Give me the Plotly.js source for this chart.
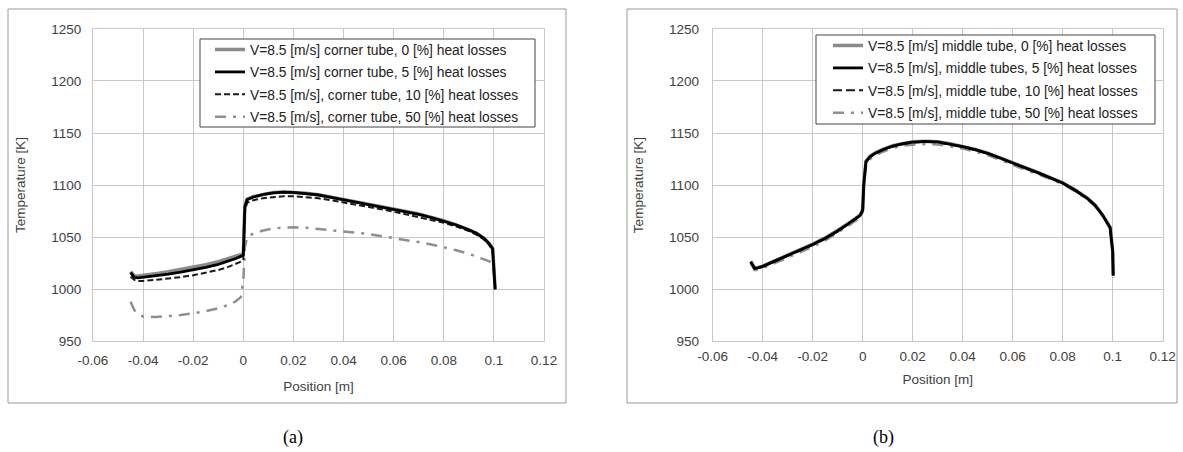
<!DOCTYPE html>
<html>
<head>
<meta charset="utf-8">
<script src="https://cdn.plot.ly/plotly-3.0.1.min.js"></script>
<style>
  html, body { margin: 0; padding: 0; background: #ffffff; }
  #chart { width: 1183px; height: 452px; }
</style>
</head>
<body>
<div id="chart"></div>
<script>
// ---------- data ----------
const xCorner = [-0.045, -0.0435, -0.042, -0.04, -0.035, -0.03, -0.025, -0.02, -0.015, -0.01,
  -0.006, -0.003, -0.001, 0, 0.0006, 0.0015, 0.004, 0.008, 0.012, 0.016,
  0.02, 0.025, 0.03, 0.035, 0.04, 0.045, 0.05, 0.055, 0.06, 0.065,
  0.07, 0.075, 0.08, 0.085, 0.09, 0.093, 0.096, 0.098, 0.0995, 0.1, 0.1005];
const corner0 = [1017, 1013, 1012.8, 1013.3, 1015, 1016.8, 1018.8, 1021, 1023.6, 1026.6,
  1029.4, 1031.6, 1033, 1034, 1080, 1086.5, 1089, 1091.3, 1092.8, 1093.4,
  1093.2, 1092.2, 1090.7, 1088.5, 1086.2, 1084, 1081.7, 1079.5, 1077.2, 1074.8,
  1072.2, 1069.1, 1065.8, 1061.9, 1057.4, 1054, 1049.2, 1044.2, 1039.2, 1015.5, 1000.5];
const corner5 = [1016, 1011.5, 1011, 1011.5, 1013, 1014.6, 1016.4, 1018.5, 1021, 1024,
  1027, 1029.6, 1031.6, 1033, 1079, 1086, 1088.6, 1091, 1092.6, 1093.2,
  1093, 1092, 1090.5, 1088.3, 1086, 1083.8, 1081.5, 1079.3, 1077, 1074.6,
  1072, 1068.9, 1065.6, 1061.7, 1057.2, 1053.8, 1049, 1044, 1039, 1015, 1000];
const corner10 = [1012, 1009, 1008, 1008, 1009, 1010.2, 1011.7, 1013.5, 1015.7, 1018.5,
  1021.5, 1024.2, 1026.5, 1028, 1075, 1083, 1085.5, 1087.5, 1088.7, 1089.2,
  1089.2, 1088.5, 1087.3, 1085.5, 1083.5, 1081.3, 1079, 1076.8, 1074.5, 1072,
  1069.5, 1066.8, 1063.8, 1060.3, 1056, 1052.5, 1047.8, 1043, 1038, 1014, 1000];
const corner50 = [988, 980, 976, 974, 973.3, 974, 975.3, 977, 979, 981.8,
  985, 988.5, 992.5, 1008, 1040, 1050, 1053.5, 1056.5, 1058.3, 1059.3,
  1059.6, 1059, 1058, 1057, 1055.7, 1054.4, 1053, 1051.2, 1049.5, 1047.3,
  1045.3, 1043, 1040.5, 1037.5, 1034, 1031.5, 1029, 1027, 1025, 1012, 1000];

const xMiddle = [-0.0448, -0.0432, -0.042, -0.04, -0.035, -0.03, -0.025, -0.02, -0.015, -0.01,
  -0.006, -0.003, -0.001, 0, 0.0004, 0.0013, 0.003, 0.005, 0.008, 0.012,
  0.016, 0.02, 0.025, 0.03, 0.035, 0.04, 0.045, 0.05, 0.055, 0.06,
  0.065, 0.07, 0.075, 0.08, 0.085, 0.09, 0.093, 0.096, 0.098, 0.099, 0.1, 0.1002];
const middle0 = [1026.8, 1020.3, 1020.8, 1022.3, 1027.6, 1032.7, 1038, 1043.3, 1049.3, 1056.3,
  1062.8, 1067.8, 1071.3, 1076.5, 1100.5, 1122.8, 1127.8, 1130.8, 1134.3, 1137.8,
  1140, 1141.5, 1142.2, 1141.7, 1139.7, 1137.2, 1134.2, 1130.7, 1126.2, 1121.2,
  1116.7, 1112.2, 1107.2, 1102.2, 1095.2, 1087.2, 1080.7, 1071.2, 1063.2, 1059.2, 1036.5, 1013.5];
const middle5 = [1026.5, 1020, 1020.5, 1022, 1027.3, 1032.4, 1037.7, 1043, 1049, 1056,
  1062.5, 1067.5, 1071, 1076, 1100, 1122.5, 1127.5, 1130.5, 1134, 1137.5,
  1139.8, 1141.3, 1142, 1141.5, 1139.5, 1137, 1134, 1130.5, 1126, 1121,
  1116.5, 1112, 1107, 1102, 1095, 1087, 1080.5, 1071, 1063, 1059, 1036, 1013];
const middle10 = [1026, 1019.5, 1020, 1021.5, 1026.8, 1031.9, 1037.2, 1042.5, 1048.5, 1055.5,
  1062, 1067, 1070.5, 1075.5, 1099, 1121.8, 1127, 1130, 1133.5, 1137,
  1139.3, 1140.8, 1141.5, 1141, 1139, 1136.6, 1133.6, 1130.1, 1125.6, 1120.6,
  1116.1, 1111.6, 1106.7, 1101.7, 1094.7, 1086.7, 1080.2, 1070.7, 1062.7, 1058.5, 1035, 1012];
const middle50 = [1025, 1018.5, 1019, 1020.3, 1025.3, 1030.3, 1035.5, 1040.8, 1046.8, 1054,
  1060.5, 1065.5, 1069, 1074, 1097, 1119.5, 1125, 1128.3, 1132, 1135.5,
  1137.8, 1138.8, 1139.3, 1139, 1137.3, 1135, 1132.2, 1128.7, 1124.2, 1119.3,
  1114.8, 1110.5, 1105.8, 1101, 1094, 1086, 1079.7, 1070.2, 1062.2, 1058, 1034, 1011];

const cornerNames = [
  'V=8.5 [m/s] corner tube, 0 [%] heat losses',
  'V=8.5 [m/s] corner tube, 5 [%] heat losses',
  'V=8.5 [m/s], corner tube, 10 [%] heat losses',
  'V=8.5 [m/s], corner tube, 50 [%] heat losses'
];
const middleNames = [
  'V=8.5 [m/s] middle tube, 0 [%] heat losses',
  'V=8.5 [m/s], middle tubes, 5 [%] heat losses',
  'V=8.5 [m/s], middle tube, 10 [%] heat losses',
  'V=8.5 [m/s], middle tube, 50 [%] heat losses'
];
const xTickVals = [-0.06, -0.04, -0.02, 0, 0.02, 0.04, 0.06, 0.08, 0.1, 0.12];
const xTickText = ['-0.06', '-0.04', '-0.02', '0', '0.02', '0.04', '0.06', '0.08', '0.1', '0.12'];
const yTickVals = [950, 1000, 1050, 1100, 1150, 1200, 1250];
const yTickText = ['950', '1000', '1050', '1100', '1150', '1200', '1250'];
const panelLabels = ['(a)', '(b)'];
const xTitle = 'Position [m]';
const yTitle = 'Temperature [K]';

// ---------- styling ----------
const W = 1183, H = 452;
const px = v => v / W;
const py = v => 1 - v / H;
const FONT = '"Liberation Sans", Arial, sans-serif';
const GRID = '#c8c8c8';

const styles = [
  {color: '#8a8a8a', width: 3.5, rank: 1},
  {color: '#000000', width: 2.8, rank: 2},
  {color: '#1a1a1a', width: 2, rank: 3},
  {color: '#8f8f8f', width: 2.5, rank: 4}
];

function makeTraces(xs, ys, names, xa, ya, lg, grp, drawOrder, dashStyles) {
  return drawOrder.map(i => ({
    type: 'scatter', mode: 'lines',
    x: xs, y: ys[i], name: names[i],
    xaxis: xa, yaxis: ya, legend: lg, legendgroup: grp + i,
    legendrank: styles[i].rank,
    line: {color: styles[i].color, width: styles[i].width, dash: dashStyles[i]},
    hoverinfo: 'skip'
  }));
}

const traces = [].concat(
  makeTraces(xCorner, [corner0, corner5, corner10, corner50], cornerNames, 'x', 'y', 'legend', 'c',
    [0, 3, 2, 1], ['solid', 'solid', '6px,3px', '11px,7px,3px,7px']),
  makeTraces(xMiddle, [middle0, middle5, middle10, middle50], middleNames, 'x2', 'y2', 'legend2', 'm',
    [0, 3, 2, 1], ['solid', 'solid', '9px,4px', '11px,7px,3px,7px'])
);

function xAxis(domain, ticklen, standoff) {
  return {
    domain: domain, range: [-0.06, 0.12], tickvals: xTickVals, ticktext: xTickText,
    showgrid: true, gridcolor: GRID, gridwidth: 1, zeroline: false,
    showline: true, linecolor: GRID, linewidth: 1, mirror: true,
    ticks: 'outside', ticklen: ticklen, tickcolor: 'rgba(0,0,0,0)',
    tickfont: {family: FONT, size: 13.5, color: '#404040'},
    title: {text: xTitle, standoff: standoff, font: {family: FONT, size: 13.5, color: '#404040'}},
    automargin: false, fixedrange: true
  };
}
function yAxis(domain, anchor, ticklen, standoff) {
  return {
    domain: domain, range: [950, 1250], tickvals: yTickVals, ticktext: yTickText,
    anchor: anchor,
    showgrid: true, gridcolor: GRID, gridwidth: 1, zeroline: false,
    showline: true, linecolor: GRID, linewidth: 1, mirror: true,
    ticks: 'outside', ticklen: ticklen, tickcolor: 'rgba(0,0,0,0)',
    tickfont: {family: FONT, size: 13.5, color: '#404040'},
    title: {text: yTitle, standoff: standoff, font: {family: FONT, size: 13.5, color: '#404040'}},
    automargin: false, fixedrange: true
  };
}

const yDom = [py(341.4), py(28.8)];
const legendBase = {
  bgcolor: 'rgba(0,0,0,0)', borderwidth: 0,
  font: {family: FONT, size: 13.8, color: '#222222'},
  xanchor: 'left', yanchor: 'top', traceorder: 'grouped', tracegroupgap: 1.5
};

const frameLine = {color: '#9a9a9a', width: 1};
const legendLine = {color: '#444444', width: 1};

const layout = {
  width: W, height: H,
  margin: {l: 0, r: 0, t: 0, b: 0},
  paper_bgcolor: '#ffffff', plot_bgcolor: '#ffffff',
  showlegend: true,
  xaxis: Object.assign(xAxis([px(93), px(544)], 6, 14), {anchor: 'y'}),
  yaxis: yAxis(yDom, 'x', 8, 22),
  xaxis2: Object.assign(xAxis([px(712.7), px(1162.7)], 2, 11), {anchor: 'y2'}),
  yaxis2: yAxis(yDom, 'x2', 10, 22),
  legend: Object.assign({}, legendBase, {x: px(210), y: py(34)}),
  legend2: Object.assign({}, legendBase, {x: px(828), y: py(30)}),
  shapes: [
    {type: 'rect', xref: 'paper', yref: 'paper', x0: px(8), x1: px(566), y0: py(403), y1: py(9),
     line: frameLine, fillcolor: 'rgba(0,0,0,0)', layer: 'below'},
    {type: 'rect', xref: 'paper', yref: 'paper', x0: px(627), x1: px(1177), y0: py(403), y1: py(9),
     line: frameLine, fillcolor: 'rgba(0,0,0,0)', layer: 'below'},
    {type: 'rect', xref: 'paper', yref: 'paper', x0: px(200), x1: px(535), y0: py(127), y1: py(39),
     line: legendLine, fillcolor: '#ffffff', layer: 'above'},
    {type: 'rect', xref: 'paper', yref: 'paper', x0: px(816), x1: px(1155), y0: py(124), y1: py(35),
     line: legendLine, fillcolor: '#ffffff', layer: 'above'}
  ],
  annotations: [
    {text: panelLabels[0], xref: 'paper', yref: 'paper', x: px(293), y: py(437),
     xanchor: 'center', yanchor: 'middle', showarrow: false,
     font: {family: '"Liberation Serif", "Times New Roman", serif', size: 18, color: '#000000'}},
    {text: panelLabels[1], xref: 'paper', yref: 'paper', x: px(883), y: py(437),
     xanchor: 'center', yanchor: 'middle', showarrow: false,
     font: {family: '"Liberation Serif", "Times New Roman", serif', size: 18, color: '#000000'}}
  ]
};

Plotly.newPlot('chart', traces, layout, {staticPlot: true, displayModeBar: false});
</script>
</body>
</html>
